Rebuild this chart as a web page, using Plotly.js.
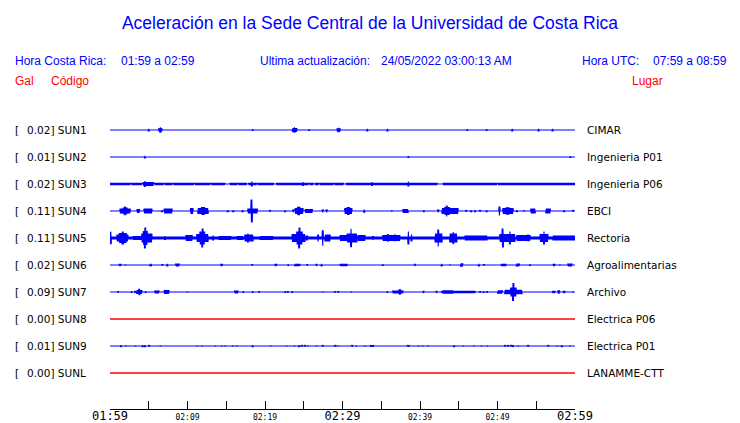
<!DOCTYPE html>
<html><head><meta charset="utf-8">
<script src="https://cdn.plot.ly/plotly-3.0.1.min.js"></script>
<style>html,body{margin:0;padding:0;background:#fff}#chart{width:740px;height:423px}</style>
</head><body><div id="chart"></div>
<script>
// ---- data ----
const stationCodes = ["SUN1","SUN2","SUN3","SUN4","SUN5","SUN6","SUN7","SUN8","SUN9","SUNL"];
const stationPga = [0.02,0.01,0.02,0.11,0.11,0.02,0.09,0.00,0.01,0.00];
const stationPlaces = ["CIMAR","Ingenieria P01","Ingenieria P06","EBCI","Rectoria","Agroalimentarias","Archivo","Electrica P06","Electrica P01","LANAMME-CTT"];
// time axis: minutes after 01:59 (Costa Rica time)
const tickMinutes = [0,5,10,15,20,25,30,35,40,45,50,55,60];
const tickLabels = ["01:59","","02:09","","02:19","","02:29","","02:39","","02:49","","02:59"];
const majorTickLabels = ["01:59","02:29","02:59"];
// waveform envelope events: [start min, end min, relative amplitude] or [min, relative amplitude] for single spikes
const sun1Events = [[5.0,1.7],[6.3,6.7,2.3],[6.5,3.2],[18.4,1.3],[23.55,24.1,2.5],[23.8,3.3],[25.7,1.3],[29.3,29.7,2.2],[29.5,2.8],[33.2,1.7],[35.8,1.7],[46.1,1.3],[48.6,1.3],[51.9,1.7],[55.3,1.7],[57.1,1.7]];
const sun2Events = [[4.5,1.7],[38.5,1.3],[59.4,1.3]];
const sun3Events = [[0,2.6,1.7],[2.8,4.1,1.7],[4.3,5.6,2.5],[5.8,6.9,1.7],[7.1,8.0,1.7],[8.2,10.8,1.7],[11.0,12.9,1.7],[13.1,14.8,1.7],[15.5,16.4,1.7],[16.6,17.6,1.7],[17.9,18.9,1.7],[19.1,21.1,1.7],[21.5,25.6,1.7],[25.8,26.2,1.7],[26.5,26.9,1.7],[27.1,28.8,1.7],[29.0,30.1,1.7],[30.5,42.2,1.7],[43.0,49.9,1.7],[50.1,60,1.7],[4.5,3.5],[18.3,3],[24.9,2.5],[33.8,2.5],[38.5,3]];
const sun4Events = [[1.3,2.6,3],[1.7,2.2,4],[1.9,2.0,5],[3.5,3.8,2.5],[4.4,5.4,3],[6.7,1.5],[7.0,8.0,3],[10.4,10.7,3.5],[11.35,12.65,3.5],[11.8,12.2,4.5],[15.2,1.5],[15.9,1.5],[17.1,1.5],[17.8,19.0,3],[18.2,18.35,12],[20.65,1.5],[22.6,1.5],[23.65,2],[23.9,24.9,3.5],[24.2,24.5,4.7],[25.2,26.1,2.5],[27.45,2],[27.95,2],[30.3,31.2,3.5],[30.6,30.9,4.5],[32.8,2],[36.35,1.2],[37.8,38.45,2.5],[40.5,1.5],[42.35,2],[42.85,44.9,3.5],[43.2,43.8,4.5],[43.4,43.5,6],[45.95,1.5],[46.6,1.5],[47.1,1.5],[47.75,1.5],[48.6,1.5],[50.2,50.3,5],[50.7,52.0,3.5],[51.1,51.5,4.2],[52.5,1.5],[53.45,1.2],[54.3,54.85,3],[56.25,56.8,3],[58.6,1.5],[59.75,1.5]];
const sun5Events = [[0,60,2],[0,0.15,6.7],[0.9,2.3,4],[1.2,2.1,5.5],[1.55,1.75,7],[3.0,4.1,2.5],[4.1,5.4,5],[4.3,4.8,7.5],[4.45,4.6,11],[7.1,2.5],[9.8,10.6,3.5],[11.2,12.65,4.5],[11.6,12.2,7],[11.85,12.0,10],[13.3,3],[14.05,15.6,2.5],[16.4,17.15,2.5],[17.4,18.45,4],[17.8,5],[19.35,21.0,2.5],[23.5,25.15,4.5],[24.1,24.8,7],[24.35,24.5,11],[25.3,25.5,3],[26.85,4],[27.45,8.3],[27.75,28.4,4],[29.7,30.55,3.5],[30.6,31.85,5],[31.05,31.15,9.7],[32.0,32.9,3.5],[33.95,2.5],[35.2,37.4,3.5],[35.85,4.5],[36.75,4],[38.45,38.55,7],[38.9,4],[41.95,42.85,5],[42.3,42.4,9],[43.85,44.75,5],[44.3,6.5],[45.8,48.65,3],[50.3,52.25,4.5],[50.6,50.75,10],[51.6,7],[52.5,54.2,3.5],[53.95,4],[55.5,56.5,4.5],[55.95,56.05,7],[57.15,60,3]];
const sun6Events = [[1.2,1.4,1.7],[2.0,1],[5.15,5.35,1.7],[6.75,1.3],[7.4,1.7],[8.5,8.9,2],[14.3,14.5,1.7],[18.35,1.3],[21.3,21.5,1.7],[23.0,1.3],[23.85,24.5,1.7],[25.45,1.3],[26.65,1.7],[27.3,1.7],[29.7,30.6,1.7],[35.2,1.3],[39.35,1.7],[42.8,1.7],[43.85,1],[45.25,45.5,2.3],[47.6,1.7],[48.25,1.3],[50.5,51.1,1.7],[52.45,52.8,2],[54.2,1.3],[57.2,57.4,1.7],[58.05,1],[59.1,59.6,2]];
const sun7Events = [[1.05,1.3],[2.8,1.3],[3.25,1.7],[3.45,4.1,2.5],[3.7,3.85,3.7],[4.6,1.3],[5.8,6.3,2],[7.0,7.6,2.5],[9.95,1],[16.1,16.5,2],[17.2,1.3],[18.4,1.3],[19.25,1.3],[22.6,1.3],[22.95,1.3],[23.5,1.3],[27.45,1],[29.05,1.3],[29.45,1.3],[31.1,1],[35.8,1.3],[36.5,37.8,2],[37.3,37.5,3.2],[40.45,1.7],[42.15,1.7],[42.8,47.1,1.6],[43.0,44.25,2.2],[47.75,1.3],[48.2,1.3],[48.65,1.3],[50.05,50.6,2.3],[50.95,53.15,2.7],[51.7,52.4,5],[51.95,52.1,9.5],[57.1,57.4,1.7],[57.8,58.0,2.2],[58.5,58.7,1.7],[59.75,1]];
const sun8Events = [];
const sun9Events = [[1.4,1.5],[2.05,1],[3.3,1],[4.2,1.5],[4.5,1.5],[5.05,1.5],[6.5,1],[11.25,1],[11.9,1],[13.6,1],[14.4,1],[14.85,1],[15.85,1],[16.35,1],[18.4,1.5],[20.75,1],[22.8,1],[23.8,1],[24.4,1.5],[24.75,1.5],[25.15,1.5],[25.55,1],[26.65,1],[27.45,1.5],[29.05,1.5],[29.35,1],[31.25,1.5],[31.8,1],[32.9,1],[33.6,34.0,1.5],[38.4,38.6,1.5],[39.8,1],[40.35,1],[41.05,1],[44.4,1.5],[45.6,1],[46.95,1],[47.95,1],[48.7,1],[50.95,1.5],[51.35,1.5],[51.75,1.5],[51.9,52.05,1.5],[52.7,1],[53.95,1.5],[56.55,1.5],[57.7,1],[58.3,1.5],[59.35,1]];
const sunLEvents = [];

const stationEvents = [sun1Events,sun2Events,sun3Events,sun4Events,sun5Events,sun6Events,sun7Events,sun8Events,sun9Events,sunLEvents];

// ---- drawing ----
const BLUE = "#0000ff", RED = "#ff0000";
const STEP = 0.05, SPIKE = 0.07, AMP_SCALE = 1/27, LINE_HALF = 0.5;
function envelope(events, t) {
  let a = 0;
  for (const e of events) {
    let s, en, amp;
    if (e.length === 2) { s = e[0] - SPIKE; en = e[0] + SPIKE; amp = e[1]; }
    else { s = e[0]; en = e[1]; amp = e[2]; if (en - s < 0.15) { s -= 0.02; en += 0.02; } }
    if (t >= s - 1e-9 && t <= en + 1e-9 && amp > a) a = amp;
  }
  // amplitudes were read as outer extents; remove half the stroke width
  return a > 0 ? Math.max(a - LINE_HALF, 0.35) : 0;
}
const traces = stationEvents.map((events, i) => {
  const xs = [], ys = [];
  const n = Math.round(60 / STEP);
  for (let k = 0; k <= n; k++) {
    const t = k * STEP;
    const a = envelope(events, t);
    xs.push(t);
    ys.push(-i + (k % 2 === 0 ? 1 : -1) * a * AMP_SCALE);
  }
  const nodata = stationPga[i] === 0;
  return {x: xs, y: ys, type: "scatter", mode: "lines", hoverinfo: "skip",
    line: {color: nodata ? RED : BLUE, width: nodata ? 1.3 : 1.1, simplify: false}};
});

const L = 110, R = 165, T = 110, B = 14, W = 740 - L - R, H = 423 - T - B;
const px = x => (x - L) / W;
const py = y => (423 - B - y) / H;

const headFont = c => ({family: "Liberation Sans, Arial, sans-serif", size: 12, color: c});
const ann = [];
function addHead(text, x, y, c) {
  ann.push({text, x: px(x), y: py(y), xref: "paper", yref: "paper", xanchor: "left", yanchor: "middle",
    showarrow: false, borderpad: 0, borderwidth: 0, font: headFont(c)});
}
addHead("Hora Costa Rica:", 15, 61, BLUE);
addHead("01:59 a 02:59", 121, 61, BLUE);
addHead("Ultima actualización:", 260, 61, BLUE);
addHead("24/05/2022 03:00:13 AM", 381, 61, BLUE);
addHead("Hora UTC:", 582, 61, BLUE);
addHead("07:59 a 08:59", 653, 61, BLUE);
addHead("Gal", 15, 81, RED);
addHead("Código", 51, 81, RED);
addHead("Lugar", 632, 81, RED);

const rowFont = {family: "DejaVu Sans, sans-serif", size: 10.5, color: "#000"};
stationCodes.forEach((code, i) => {
  const base = {xref: "paper", yref: "y", y: -i, xanchor: "left", yanchor: "middle", showarrow: false,
    borderpad: 0, borderwidth: 0, font: rowFont};
  ann.push(Object.assign({}, base, {text: "[", x: px(15)}));
  ann.push(Object.assign({}, base, {text: stationPga[i].toFixed(2) + "] " + code, x: px(27)}));
  ann.push(Object.assign({}, base, {text: stationPlaces[i], x: px(587)}));
});

const tickText = tickLabels.map(s => majorTickLabels.includes(s) ? '<span style="font-size:12px">' + s + '</span>' : s);

const layout = {
  width: 740, height: 423,
  margin: {l: L, r: R, t: T, b: B, pad: 0},
  paper_bgcolor: "#fff", plot_bgcolor: "#fff",
  showlegend: false,
  title: {text: "Aceleración en la Sede Central de la Universidad de Costa Rica",
    font: {family: "Liberation Sans, Arial, sans-serif", size: 17.5, color: BLUE},
    x: 0.5, xanchor: "center", xref: "container", y: 1 - 23 / 423, yanchor: "middle", yref: "container"},
  xaxis: {range: [0, 60], showline: true, linecolor: "#000", linewidth: 1, mirror: false,
    ticks: "inside", ticklen: 8, tickwidth: 1, tickcolor: "#000",
    tickmode: "array", tickvals: tickMinutes, ticktext: tickText,
    tickfont: {family: "DejaVu Sans Mono, monospace", size: 8, color: "#000"},
    showgrid: false, zeroline: false, fixedrange: true},
  yaxis: {range: [-10.333, 0.741], visible: false, showgrid: false, zeroline: false, fixedrange: true},
  annotations: ann
};
Plotly.newPlot("chart", traces, layout, {staticPlot: true, displayModeBar: false});
</script>
</body></html>
